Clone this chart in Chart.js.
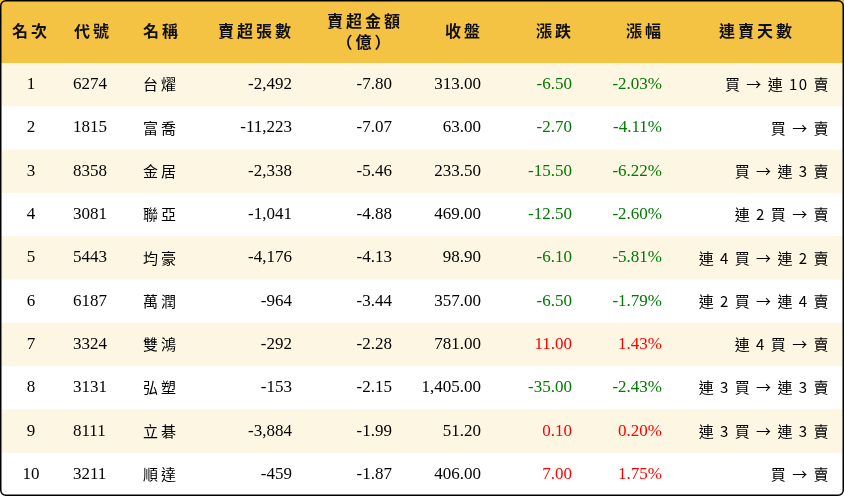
<!DOCTYPE html><html><head><meta charset="utf-8">
<script src="https://cdn.jsdelivr.net/npm/chart.js@4"></script>
<style>html,body{margin:0;padding:0;background:#fff}#w{width:844px;height:496px}</style></head><body><div id="w"><canvas id="c"></canvas></div>
<script>
const headers=["名次","代號","名稱","賣超張數","賣超金額\n（億）","收盤","漲跌","漲幅","連賣天數"];
const ranks=["1","2","3","4","5","6","7","8","9","10"];
const codes=["6274","1815","8358","3081","5443","6187","3324","3131","8111","3211"];
const names=["台燿","富喬","金居","聯亞","均豪","萬潤","雙鴻","弘塑","立碁","順達"];
const sellLots=["-2,492","-11,223","-2,338","-1,041","-4,176","-964","-292","-153","-3,884","-459"];
const sellAmt=["-7.80","-7.07","-5.46","-4.88","-4.13","-3.44","-2.28","-2.15","-1.99","-1.87"];
const closes=["313.00","63.00","233.50","469.00","98.90","357.00","781.00","1,405.00","51.20","406.00"];
const changes=["-6.50","-2.70","-15.50","-12.50","-6.10","-6.50","11.00","-35.00","0.10","7.00"];
const pcts=["-2.03%","-4.11%","-6.22%","-2.60%","-5.81%","-1.79%","1.43%","-2.43%","0.20%","1.75%"];
const streaks=["買 → 連 10 賣","買 → 賣","買 → 連 3 賣","連 2 買 → 賣","連 4 買 → 連 2 賣","連 2 買 → 連 4 賣","連 4 買 → 賣","連 3 買 → 連 3 賣","連 3 買 → 連 3 賣","買 → 賣"];
const cols=[
 {x:31,a:"center",hx:12,ha:"left",d:ranks},
 {x:73,a:"left",hx:74,ha:"left",d:codes},
 {x:143,a:"left",hx:143,ha:"left",d:names},
 {x:292,a:"right",hx:294,ha:"right",d:sellLots},
 {x:392,a:"right",hx:365,ha:"center",d:sellAmt},
 {x:481,a:"right",hx:483,ha:"right",d:closes},
 {x:572,a:"right",hx:574,ha:"right",d:changes,c:true},
 {x:662,a:"right",hx:664,ha:"right",d:pcts,c:true},
 {x:830,a:"right",hx:757,ha:"center",d:streaks}
];
const cjk=s=>/[\u4e00-\u9fff]/.test(s);
const tbl={id:"tbl",afterDraw(ch){
 const g=ch.ctx,X=ch.scales.x,Y=ch.scales.y;
 const px=v=>X.getPixelForValue(v),py=v=>Y.getPixelForValue(v);
 g.save();
 g.fillStyle="#f5c344";g.fillRect(px(0),py(0),px(844)-px(0),py(63)-py(0));
 const rh=43.3;
 for(let i=0;i<10;i++){const t=63+i*rh;if(i%2===0){g.fillStyle="#fdf6e3";g.fillRect(px(0),py(t),px(844)-px(0),py(t+rh)-py(t));}}
 g.textBaseline="middle";
 g.fillStyle="#111";g.font="bold 16px 'Noto Sans CJK TC'";g.letterSpacing="3px";
 cols.forEach((c,j)=>{g.textAlign=c.ha;const L=headers[j].split("\n");
  if(L.length===1)g.fillText(L[0],px(c.hx),py(31));else{g.fillText(L[0],px(c.hx),py(21));g.fillText(L[1],px(c.hx),py(42));}});
 for(let i=0;i<10;i++){const y=py(63+i*rh+rh/2);
  cols.forEach(c=>{const s=c.d[i];g.textAlign=c.a;
   g.fillStyle=c.c?(s.startsWith("-")?"#007a00":"#ff0000"):"#000";
   if(cjk(s)){g.font="15px 'Noto Sans CJK TC'";g.letterSpacing=c.a==="right"?"1.5px":"3px";}
   else{g.font="17px 'Liberation Serif'";g.letterSpacing="0px";}
   g.fillText(s,px(c.x),y);});}
 g.letterSpacing="0px";
 g.strokeStyle="#000";g.lineWidth=1.5;g.beginPath();g.roundRect(px(0)+0.75,py(0)+0.75,px(844)-px(0)-1.5,py(496)-py(0)-1.5,5);g.stroke();
 g.restore();}};
new Chart(document.getElementById("c"),{type:"scatter",data:{datasets:[{data:[]}]},
 options:{responsive:true,maintainAspectRatio:false,animation:false,layout:{padding:0},
 plugins:{legend:{display:false},tooltip:{enabled:false}},
 scales:{x:{type:"linear",min:0,max:844,display:false},y:{type:"linear",min:0,max:496,reverse:true,display:false}}},
 plugins:[tbl]});
</script></body></html>
